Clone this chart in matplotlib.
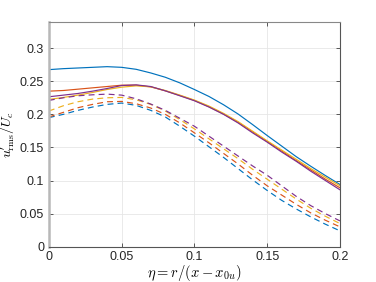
import matplotlib
matplotlib.use("Agg")
import matplotlib.pyplot as plt
import numpy as np

eta = [0.00, 0.01, 0.02, 0.03, 0.04, 0.05, 0.06, 0.07, 0.08, 0.09, 0.10,
       0.11, 0.12, 0.13, 0.14, 0.15, 0.16, 0.17, 0.18, 0.19, 0.20]

solid_blue = [0.2675, 0.269, 0.270, 0.271, 0.272, 0.271, 0.268, 0.2625, 0.256, 0.2475, 0.2375,
              0.227, 0.2145, 0.2005, 0.1845, 0.168, 0.152, 0.136, 0.1215, 0.1075, 0.094]
solid_red = [0.235, 0.236, 0.238, 0.240, 0.242, 0.244, 0.244, 0.2415, 0.2355, 0.2285, 0.221,
             0.2115, 0.2005, 0.188, 0.1735, 0.159, 0.1445, 0.130, 0.116, 0.102, 0.089]
solid_yellow = [0.2225, 0.2255, 0.229, 0.233, 0.2375, 0.241, 0.243, 0.2415, 0.236, 0.229, 0.2215,
                0.2125, 0.2015, 0.189, 0.1745, 0.160, 0.146, 0.132, 0.118, 0.105, 0.092]
solid_purple = [0.2265, 0.229, 0.2315, 0.235, 0.239, 0.2435, 0.2445, 0.242, 0.2355, 0.228, 0.2205,
                0.211, 0.2, 0.187, 0.172, 0.158, 0.143, 0.129, 0.114, 0.100, 0.086]

dash_blue = [0.195, 0.200, 0.206, 0.211, 0.215, 0.217, 0.2135, 0.206, 0.196, 0.182, 0.167,
             0.151, 0.135, 0.118, 0.101, 0.085, 0.070, 0.057, 0.045, 0.034, 0.024]
dash_red = [0.196, 0.203, 0.210, 0.215, 0.219, 0.2195, 0.216, 0.2095, 0.200, 0.187, 0.172,
            0.157, 0.141, 0.125, 0.108, 0.092, 0.078, 0.064, 0.051, 0.040, 0.030]
dash_yellow = [0.205, 0.213, 0.219, 0.223, 0.225, 0.2255, 0.222, 0.215, 0.205, 0.192, 0.178,
               0.163, 0.148, 0.133, 0.117, 0.102, 0.087, 0.072, 0.058, 0.046, 0.035]
dash_purple = [0.221, 0.225, 0.228, 0.2295, 0.2305, 0.229, 0.2235, 0.2155, 0.206, 0.194, 0.182,
               0.167, 0.152, 0.137, 0.122, 0.108, 0.092, 0.076, 0.062, 0.050, 0.039]

xticks = [0, 0.05, 0.1, 0.15, 0.2]
xticklabels = ["0", "0.05", "0.1", "0.15", "0.2"]
yticks = [0, 0.05, 0.1, 0.15, 0.2, 0.25, 0.3]
yticklabels = ["0", "0.05", "0.1", "0.15", "0.2", "0.25", "0.3"]

C_BLUE = "#0072BD"
C_RED = "#D95319"
C_YEL = "#EDB120"
C_PUR = "#7E2F8E"

plt.rcParams["mathtext.fontset"] = "cm"
plt.rcParams["font.family"] = ["Liberation Sans", "DejaVu Sans"]

fig = plt.figure(figsize=(3.76, 2.82), dpi=100)
ax = fig.add_axes([0.130, 0.1252, 0.774, 0.798])

lw = 0.85
ax.plot(eta, solid_blue, color=C_BLUE, lw=lw)
ax.plot(eta, solid_red, color=C_RED, lw=lw)
ax.plot(eta, solid_yellow, color=C_YEL, lw=lw)
ax.plot(eta, solid_purple, color=C_PUR, lw=lw)
ds = (0, (5, 3.5))
ax.plot(eta, dash_blue, color=C_BLUE, lw=lw, ls=ds)
ax.plot(eta, dash_red, color=C_RED, lw=lw, ls=ds)
ax.plot(eta, dash_yellow, color=C_YEL, lw=lw, ls=ds)
ax.plot(eta, dash_purple, color=C_PUR, lw=lw, ls=ds)

ax.set_xlim(0, 0.2)
ax.set_ylim(0, 0.34)
ax.set_xticks(xticks)
ax.set_xticklabels(xticklabels)
ax.set_yticks(yticks)
ax.set_yticklabels(yticklabels)
ax.grid(True, color="#e6e6e6", lw=0.6)
ax.set_axisbelow(True)
ax.tick_params(direction="in", length=3, width=0.6, colors="#404040",
               labelsize=9, top=True, right=True, labelcolor="#262626")
ax.tick_params(axis="x", pad=3)
for s in ["bottom", "right"]:
    ax.spines[s].set_color("#555555")
    ax.spines[s].set_linewidth(0.8)
ax.spines["top"].set_color("#888888")
ax.spines["top"].set_linewidth(0.8)
ax.spines["left"].set_color("#b8b8b8")
ax.spines["left"].set_linewidth(1.8)

ax.set_xlabel(r"$\eta = r/(x - x_{0u})$", fontsize=10.5, labelpad=0)
ax.xaxis.set_label_coords(0.5, -0.071)
ax.set_ylabel(r"$u^{\prime}_{\rm rms}/U_c$", fontsize=10)
ax.yaxis.set_label_coords(-0.108, 0.5)

fig.savefig("out.png", dpi=100)
